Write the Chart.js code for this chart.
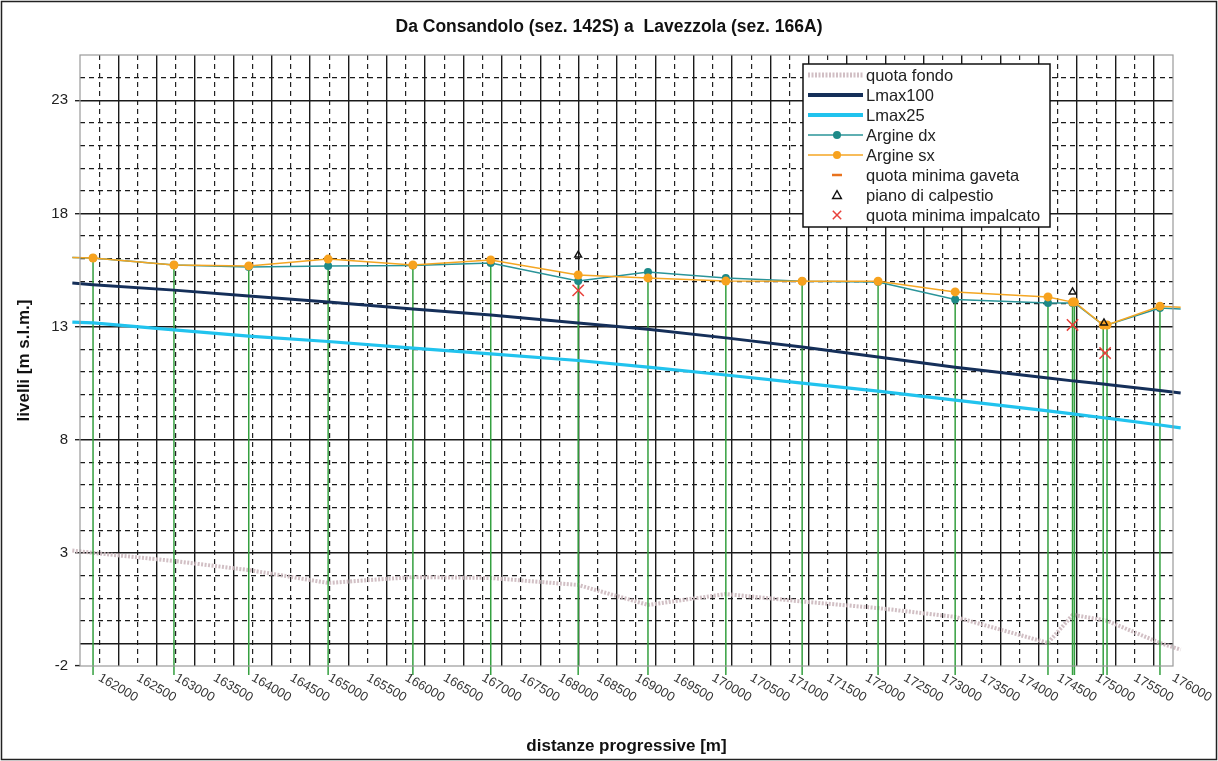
<!DOCTYPE html>
<html>
<head>
<meta charset="utf-8">
<title>Da Consandolo a Lavezzola</title>
<script src="https://cdn.jsdelivr.net/npm/chart.js@4.4.0/dist/chart.umd.min.js"></script>
<style>
  html, body { margin: 0; padding: 0; background: #fff; }
  #wrap { width: 1218px; height: 761px; }
</style>
</head>
<body>
<div id="wrap"><canvas id="chart" width="1218" height="761"></canvas></div>
<script>
// distanze progressive (m) of the sections, first and last are the line ends
const distanze = [161650, 161920, 162975, 163950, 164985, 166090, 167105, 168245, 169155, 170170,
  171165, 172155, 173160, 174370, 174690, 174715, 175090, 175140, 175830, 176100];

// levels (m s.l.m.) at each distanza
const quotaFondo = [3.1, 3.0, 2.64, 2.24, 1.67, 1.93, 1.89, 1.58, 0.7, 1.18,
  0.85, 0.56, 0.17, -0.98, 0.25, 0.25, 0.03, 0.0, -0.98, -1.28];
const lmax100 = [14.92, 14.85, 14.61, 14.35, 14.08, 13.78, 13.51, 13.16, 12.88, 12.5,
  12.1, 11.65, 11.2, 10.73, 10.6, 10.59, 10.46, 10.44, 10.17, 10.06];
const lmax25 = [13.2, 13.16, 12.85, 12.58, 12.34, 12.05, 11.79, 11.5, 11.21, 10.86,
  10.5, 10.15, 9.75, 9.27, 9.14, 9.13, 8.97, 8.95, 8.65, 8.52];
const argineDx = [16.05, 16.03, 15.72, 15.63, 15.68, 15.7, 15.81, 15.01, 15.41, 15.15,
  15.0, 14.97, 14.2, 14.04, 14.04, 14.04, 13.07, 13.07, 13.82, 13.78];
const argineSx = [16.05, 16.03, 15.72, 15.68, 15.98, 15.72, 15.94, 15.28, 15.15, 15.01,
  15.0, 15.0, 14.53, 14.31, 14.08, 14.08, 13.07, 13.07, 13.9, 13.85];

// bridges
const calpestioDist = [168245, 174690, 175100];
const pianoCalpestio = [16.16, 14.53, 13.16];
const impalcatoDist = [168245, 174690, 175115];
const quotaImpalcato = [14.6, 13.07, 11.83];
const gavetaDist = [];
const quotaGaveta = [];

// axes
const xTicks = [162000, 162500, 163000, 163500, 164000, 164500, 165000, 165500, 166000, 166500,
  167000, 167500, 168000, 168500, 169000, 169500, 170000, 170500, 171000, 171500,
  172000, 172500, 173000, 173500, 174000, 174500, 175000, 175500, 176000];
const yTicks = [-2, 3, 8, 13, 18, 23];
const ySolid = [23, 18, 13, 8, 3, -1];
const xMin = 161750, xMax = 176000, yMin = -2, yMax = 25;
const dropBase = -2.4;

const FONT = "'Liberation Sans', Arial, sans-serif";

function toXY(xs, ys) {
  return xs.map((x, i) => ({ x: x, y: ys[i] }));
}

// green vertical lines at every section
const drops = [];
distanze.slice(1, -1).forEach((x, k) => {
  const i = k + 1;
  drops.push({ x: x, y: Math.max(argineDx[i], argineSx[i]) });
  drops.push({ x: x, y: dropBase });
  drops.push({ x: x, y: null });
});

const edge = ctx => (ctx.dataIndex === 0 || ctx.dataIndex === distanze.length - 1);

const datasets = [
  {
    label: 'quota fondo', data: toXY(distanze, quotaFondo),
    borderColor: 'rgba(204,184,190,0.9)', borderWidth: 4, borderDash: [2, 1.5],
    pointRadius: 0, order: 8, clip: 12
  },
  {
    label: 'Lmax100', data: toXY(distanze, lmax100),
    borderColor: '#152f59', borderWidth: 3, pointRadius: 0, order: 5, clip: 12
  },
  {
    label: 'Lmax25', data: toXY(distanze, lmax25),
    borderColor: '#21c3ee', borderWidth: 3.2, pointRadius: 0, order: 6, clip: 12
  },
  {
    label: 'Argine dx', data: toXY(distanze, argineDx),
    borderColor: '#2a9499', borderWidth: 1.5,
    pointStyle: 'circle', pointRadius: ctx => edge(ctx) ? 0 : 4, legendRadius: 4,
    pointBackgroundColor: '#1d8a88', pointBorderColor: '#1d8a88', pointBorderWidth: 0,
    order: 3, clip: 12
  },
  {
    label: 'Argine sx', data: toXY(distanze, argineSx),
    borderColor: '#f4a623', borderWidth: 1.5,
    pointStyle: 'circle', pointRadius: ctx => edge(ctx) ? 0 : 4.5, legendRadius: 4,
    pointBackgroundColor: '#f7a21e', pointBorderColor: '#f7a21e', pointBorderWidth: 0,
    order: 2, clip: 12
  },
  {
    label: 'quota minima gaveta', data: toXY(gavetaDist, quotaGaveta), showLine: false,
    pointStyle: 'line', pointRadius: 5, legendRadius: 5,
    pointBorderColor: '#e8731e', pointBackgroundColor: '#e8731e', pointBorderWidth: 2.5, order: 1
  },
  {
    label: 'piano di calpestio', data: toXY(calpestioDist, pianoCalpestio), showLine: false,
    pointStyle: 'triangle', pointRadius: 4, legendRadius: 4,
    pointBorderColor: '#111', pointBackgroundColor: 'rgba(0,0,0,0)', pointBorderWidth: 1.4, order: 0
  },
  {
    label: 'quota minima impalcato', data: toXY(impalcatoDist, quotaImpalcato), showLine: false,
    pointStyle: 'crossRot', pointRadius: 8, legendRadius: 6,
    pointBorderColor: '#e8403a', pointBackgroundColor: '#e8403a', pointBorderWidth: 1.5, order: 1
  },
  {
    label: 'sezioni', data: drops, noLegend: true,
    borderColor: '#35a040', borderWidth: 1.5, pointRadius: 0, spanGaps: false,
    order: 7, clip: false
  }
];

function drawMarker(ctx, style, x, y, r, fill, stroke, lw) {
  ctx.save();
  ctx.fillStyle = fill;
  ctx.strokeStyle = stroke;
  ctx.lineWidth = lw;
  ctx.beginPath();
  if (style === 'circle') {
    ctx.arc(x, y, r, 0, Math.PI * 2);
    ctx.fill();
  } else if (style === 'triangle') {
    const s = r * 1.1;
    ctx.moveTo(x, y - s);
    ctx.lineTo(x + s, y + s * 0.8);
    ctx.lineTo(x - s, y + s * 0.8);
    ctx.closePath();
    ctx.fill();
    ctx.stroke();
  } else if (style === 'crossRot') {
    ctx.moveTo(x - r * 0.7, y - r * 0.7);
    ctx.lineTo(x + r * 0.7, y + r * 0.7);
    ctx.moveTo(x + r * 0.7, y - r * 0.7);
    ctx.lineTo(x - r * 0.7, y + r * 0.7);
    ctx.stroke();
  } else if (style === 'line') {
    ctx.moveTo(x - r, y);
    ctx.lineTo(x + r, y);
    ctx.stroke();
  }
  ctx.restore();
}

const extras = {
  id: 'extras',
  afterDraw(chart) {
    const ctx = chart.ctx;
    const a = chart.chartArea;
    const xs = chart.scales.x;

    // plot frame and outer frame
    ctx.save();
    ctx.strokeStyle = '#9a9a9a';
    ctx.lineWidth = 1.2;
    ctx.strokeRect(a.left, a.top, a.right - a.left, a.bottom - a.top);
    ctx.strokeStyle = '#222';
    ctx.lineWidth = 1.5;
    ctx.strokeRect(1.5, 1.5, chart.width - 3, chart.height - 3);
    ctx.restore();

    // x tick labels, turned clockwise
    ctx.save();
    ctx.font = '13px ' + FONT;
    ctx.fillStyle = '#333';
    ctx.textAlign = 'left';
    ctx.textBaseline = 'middle';
    xTicks.forEach(v => {
      const px = xs.getPixelForValue(v);
      ctx.save();
      ctx.translate(px, a.bottom + 11);
      ctx.rotate(Math.PI / 6);
      ctx.fillText(String(v), 0, 0);
      ctx.restore();
    });
    ctx.restore();

    // legend box
    const L = { x: 803, y: 64, w: 247, h: 163, row: 20, first: 75, s0: 808, s1: 863, mid: 837, text: 866 };
    ctx.save();
    ctx.fillStyle = '#fff';
    ctx.fillRect(L.x, L.y, L.w, L.h);
    ctx.strokeStyle = '#111';
    ctx.lineWidth = 1.5;
    ctx.strokeRect(L.x, L.y, L.w, L.h);
    ctx.font = '16.5px ' + FONT;
    ctx.textBaseline = 'middle';
    ctx.textAlign = 'left';
    let row = 0;
    chart.data.datasets.forEach(ds => {
      if (ds.noLegend) return;
      const y = L.first + row * L.row;
      if (ds.showLine !== false) {
        ctx.save();
        ctx.strokeStyle = ds.borderColor;
        ctx.lineWidth = ds.borderWidth + (ds.borderWidth >= 3 ? 1 : 0);
        ctx.setLineDash(ds.borderDash || []);
        ctx.beginPath();
        ctx.moveTo(L.s0, y);
        ctx.lineTo(L.s1, y);
        ctx.stroke();
        ctx.restore();
      }
      if (ds.legendRadius) {
        drawMarker(ctx, ds.pointStyle, L.mid, y, ds.legendRadius,
          ds.pointBackgroundColor, ds.pointBorderColor, ds.pointBorderWidth || 1);
      }
      ctx.fillStyle = '#222';
      ctx.fillText(ds.label, L.text, y + 1);
      row++;
    });
    ctx.restore();
  }
};

const gridDash = [5, 4];

new Chart(document.getElementById('chart').getContext('2d'), {
  type: 'line',
  data: { datasets: datasets },
  options: {
    responsive: false,
    animation: false,
    events: [],
    layout: { padding: 0 },
    plugins: {
      legend: { display: false },
      tooltip: { enabled: false },
      title: {
        display: true,
        text: 'Da Consandolo (sez. 142S) a  Lavezzola (sez. 166A)',
        color: '#111',
        font: { family: FONT, size: 17.5, weight: 'bold', lineHeight: 1.2 },
        padding: { top: 17, bottom: 17 }
      }
    },
    scales: {
      x: {
        type: 'linear',
        min: xMin,
        max: xMax,
        afterBuildTicks: scale => {
          const t = [];
          for (let v = xMin; v <= xMax; v += 250) t.push({ value: v });
          scale.ticks = t;
        },
        afterFit: scale => { scale.height = 95; },
        ticks: { display: false, autoSkip: false },
        grid: {
          drawTicks: false,
          color: ctx => {
            const v = ctx.tick ? ctx.tick.value : 0;
            if (v <= xMin || v >= xMax) return 'rgba(0,0,0,0)';
            return (v - xMin) % 500 === 0 ? '#1a1a1a' : '#222';
          },
          lineWidth: ctx => (ctx.tick && (ctx.tick.value - xMin) % 500 === 0) ? 1.4 : 1.2
        },
        border: {
          display: false,
          dash: ctx => (ctx.tick && (ctx.tick.value - xMin) % 500 !== 0) ? gridDash : []
        },
        title: {
          display: true,
          text: 'distanze progressive [m]',
          color: '#111',
          font: { family: FONT, size: 17, weight: 'bold' },
          padding: { top: 0, bottom: 4 }
        }
      },
      y: {
        type: 'linear',
        min: yMin,
        max: yMax,
        afterBuildTicks: scale => {
          const t = [];
          for (let v = yMin; v <= yMax; v += 1) t.push({ value: v });
          scale.ticks = t;
        },
        afterFit: scale => { scale.width = 80; },
        ticks: {
          autoSkip: false,
          padding: 7,
          color: '#222',
          font: { family: FONT, size: 15 },
          callback: v => yTicks.includes(v) ? String(v) : ''
        },
        grid: {
          tickLength: 5,
          tickWidth: 1.4,
          tickColor: ctx => (ctx.tick && yTicks.includes(ctx.tick.value)) ? '#222' : 'rgba(0,0,0,0)',
          color: ctx => {
            const v = ctx.tick ? ctx.tick.value : 0;
            if (v <= yMin || v >= yMax) return 'rgba(0,0,0,0)';
            return '#1a1a1a';
          },
          lineWidth: ctx => (ctx.tick && ySolid.includes(ctx.tick.value)) ? 1.4 : 1.2
        },
        border: {
          display: false,
          dash: ctx => (ctx.tick && !ySolid.includes(ctx.tick.value)) ? gridDash : []
        },
        title: {
          display: true,
          text: 'livelli [m s.l.m.]',
          color: '#111',
          font: { family: FONT, size: 17, weight: 'bold' },
          padding: { top: 14, bottom: 0 }
        }
      },
      // empty strip on the right so the plot ends where the reference does
      yRight: {
        type: 'linear',
        position: 'right',
        min: yMin,
        max: yMax,
        afterFit: scale => { scale.width = 45; },
        ticks: { display: false },
        grid: { drawOnChartArea: false, drawTicks: false },
        border: { display: false }
      }
    }
  },
  plugins: [extras]
});
</script>
</body>
</html>
